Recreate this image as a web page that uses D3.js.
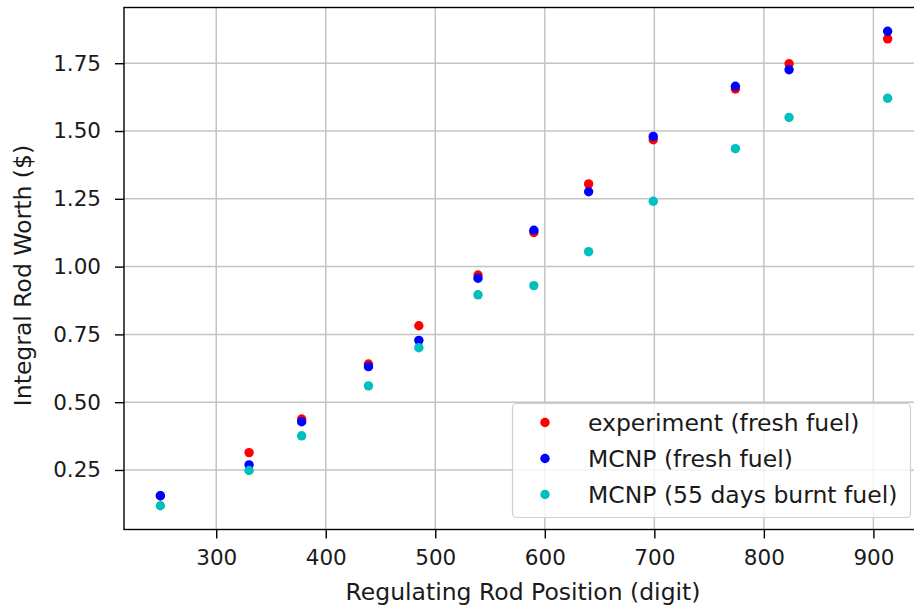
<!DOCTYPE html>
<html><head><meta charset="utf-8">
<script src="https://cdn.jsdelivr.net/npm/d3@7"></script>
<style>body{margin:0;background:#fff}svg{display:block}text{font-family:"DejaVu Sans",sans-serif;fill:#1a1a1a}</style>
</head><body><svg id="c" width="914" height="608"></svg>
<script>
const positions = [249, 330, 378, 439, 485, 539, 590, 640, 699, 774, 823, 913];
const experimentFresh = [0.155, 0.314, 0.438, 0.641, 0.782, 0.969, 1.126, 1.305, 1.468, 1.655, 1.748, 1.840];
const mcnpFresh = [0.155, 0.269, 0.428, 0.631, 0.728, 0.957, 1.134, 1.276, 1.480, 1.665, 1.726, 1.868];
const mcnpBurnt = [0.118, 0.248, 0.376, 0.560, 0.701, 0.896, 0.930, 1.055, 1.241, 1.435, 1.550, 1.621];
const seriesNames = ["experiment (fresh fuel)", "MCNP (fresh fuel)", "MCNP (55 days burnt fuel)"];
const seriesColors = ["#ff0000", "#0000ff", "#00bfbf"];
const xTicks = [300, 400, 500, 600, 700, 800, 900];
const yTicks = [0.25, 0.50, 0.75, 1.00, 1.25, 1.50, 1.75];
const xLabel = "Regulating Rod Position (digit)";
const yLabel = "Integral Rod Worth ($)";

const series = [experimentFresh, mcnpFresh, mcnpBurnt];
const L = 124, R = 924, T = 7.5, B = 529.5;
const svg = d3.select("#c");

const allY = series.flat();
const xmin = d3.min(positions), xmax = d3.max(positions);
const ymin = d3.min(allY), ymax = d3.max(allY);
const xm = (xmax - xmin) * 0.05, ym = (ymax - ymin) * 0.05;
const x = d3.scaleLinear().domain([xmin - xm, xmax + xm]).range([L, R]);
const y = d3.scaleLinear().domain([ymin - ym, ymax + ym]).range([B, T]);

// grid
const g = svg.append("g");
g.selectAll("line.gx").data(xTicks).join("line")
  .attr("x1", d => x(d)).attr("x2", d => x(d)).attr("y1", T).attr("y2", B)
  .attr("stroke", "#c4c4c4").attr("stroke-width", 1.5);
g.selectAll("line.gy").data(yTicks).join("line")
  .attr("y1", d => y(d)).attr("y2", d => y(d)).attr("x1", L).attr("x2", R)
  .attr("stroke", "#c4c4c4").attr("stroke-width", 1.5);

// axes
const xAxis = d3.axisBottom(x).tickValues(xTicks).tickSize(9).tickPadding(11.5).tickFormat(d3.format("d"));
const yAxis = d3.axisLeft(y).tickValues(yTicks).tickSize(9).tickPadding(14).tickFormat(d3.format(".2f"));
const gx = svg.append("g").attr("transform", `translate(0,${B})`).call(xAxis);
const gy = svg.append("g").attr("transform", `translate(${L},0)`).call(yAxis);
[gx, gy].forEach(a => {
  a.select(".domain").remove();
  a.selectAll(".tick line").attr("stroke", "#000").attr("stroke-width", 1.4);
  a.selectAll(".tick text").attr("font-size", 21.5).attr("fill", "#1a1a1a").attr("font-family", "DejaVu Sans");
});

// points
series.forEach((s, i) => {
  svg.append("g").selectAll("circle").data(positions).join("circle")
    .attr("cx", (d) => x(d)).attr("cy", (d, j) => y(s[j])).attr("r", 4.7)
    .attr("fill", seriesColors[i]);
});

// spines
svg.append("rect").attr("x", L).attr("y", T).attr("width", R - L).attr("height", B - T)
  .attr("fill", "none").attr("stroke", "#000").attr("stroke-width", 1.4);

// legend
const lg = svg.append("g");
lg.append("rect").attr("x", 512.5).attr("y", 403.5).attr("width", 398).attr("height", 114).attr("rx", 4)
  .attr("fill", "rgba(255,255,255,0.8)").attr("stroke", "#d0d0d0").attr("stroke-width", 1.2);
seriesNames.forEach((n, i) => {
  const cy = 422.5 + i * 36;
  lg.append("circle").attr("cx", 545).attr("cy", cy).attr("r", 4.7).attr("fill", seriesColors[i]);
  lg.append("text").attr("x", 588).attr("y", cy).attr("dy", "0.36em").attr("font-size", 23.5).text(n);
});

// labels
svg.append("text").attr("x", (L + R) / 2 - 1).attr("y", 600).attr("text-anchor", "middle").attr("font-size", 23.5).text(xLabel);
svg.append("text").attr("transform", `translate(31,${(T + B) / 2 + 7}) rotate(-90)`).attr("text-anchor", "middle").attr("font-size", 23.5).text(yLabel);
</script></body></html>
